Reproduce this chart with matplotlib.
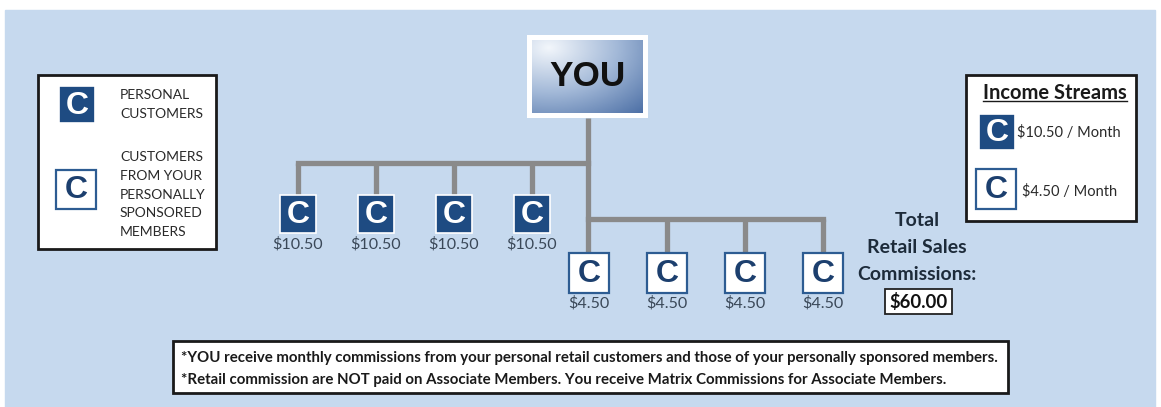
import numpy as np
import matplotlib
matplotlib.use("Agg")
import matplotlib.pyplot as plt
from matplotlib.patches import Rectangle
from matplotlib.colors import LinearSegmentedColormap

# values shown in the diagram
personal_commissions = [10.50, 10.50, 10.50, 10.50]
sponsored_commissions = [4.50, 4.50, 4.50, 4.50]
legend_personal = ["PERSONAL", "CUSTOMERS"]
legend_sponsored = ["CUSTOMERS", "FROM YOUR", "PERSONALLY", "SPONSORED", "MEMBERS"]
income_streams = ["$10.50 / Month", "$4.50 / Month"]
total_lines = ["Total", "Retail Sales", "Commissions:"]
notes = [
    "*YOU receive monthly commissions from your personal retail customers and those of your personally sponsored members.",
    "*Retail commission are NOT paid on Associate Members. You receive Matrix Commissions for Associate Members.",
]
total = sum(personal_commissions) + sum(sponsored_commissions)

W, H = 1161, 407
BG = "#c6d9ee"
NAVY = "#1e4b82"
NAVY_TXT = "#1c3f6e"
GREY = "#8a8a8a"
FONT = "Lato"

fig = plt.figure(figsize=(W / 100, H / 100), dpi=100)
ax = fig.add_axes([0, 0, 1, 1])
ax.set_xlim(0, W)
ax.set_ylim(H, 0)
ax.axis("off")
renderer = fig.canvas.get_renderer()


def fit(t, width):
    # scale the font so the text spans the given pixel width
    w = t.get_window_extent(renderer).width
    t.set_fontsize(t.get_fontsize() * width / w)
    return t.get_fontsize()


ax.add_patch(Rectangle((5, 10), 1150, 397, color=BG, zorder=0))

# YOU box with gradient
ax.add_patch(Rectangle((527, 35), 121, 83, facecolor="white", edgecolor="none", zorder=2))
yy, xx = np.mgrid[0:1:80j, 0:1:120j]
grad = np.sqrt((xx - 0.15) ** 2 + (yy - 0.1) ** 2)
cmap = LinearSegmentedColormap.from_list("you", ["#f2f6fb", "#a3b9d8", "#4d70a6"])
ax.imshow(grad, cmap=cmap, extent=(532, 643, 113, 40), zorder=3, aspect="auto")
t = ax.text(587, 76, "YOU", ha="center", va="center", fontsize=26,
            fontweight="bold", family="Liberation Sans", color="#111111", zorder=4)
fit(t, 76)

# connector lines
lw = 3.8
row1_x = [298 + 78 * i for i in range(len(personal_commissions))]
row2_x = [589 + 78 * i for i in range(len(sponsored_commissions))]
ax.plot([588, 588], [118, 255], color=GREY, lw=lw, zorder=1, solid_capstyle="butt")
ax.plot([row1_x[0], 588], [163, 163], color=GREY, lw=lw, zorder=1, solid_capstyle="projecting")
ax.plot([588, row2_x[-1]], [219, 219], color=GREY, lw=lw, zorder=1, solid_capstyle="projecting")
for x in row1_x:
    ax.plot([x, x], [163, 196], color=GREY, lw=lw, zorder=1, solid_capstyle="butt")
for x in row2_x[1:]:
    ax.plot([x, x], [219, 254], color=GREY, lw=lw, zorder=1, solid_capstyle="butt")


def dark_box(cx, y0, w=36, h=38, fs=23):
    ax.add_patch(Rectangle((cx - w / 2, y0), w, h, facecolor=NAVY, edgecolor="white",
                           lw=1.2, zorder=5))
    ax.text(cx, y0 + h / 2 + 1, "C", ha="center", va="center", color="white",
            fontsize=fs, fontweight="bold", family="Liberation Sans", zorder=6)


def light_box(cx, y0, w=40, h=40, fs=23):
    ax.add_patch(Rectangle((cx - w / 2, y0), w, h, facecolor="white", edgecolor="#2d5c92",
                           lw=1.6, zorder=5))
    ax.text(cx, y0 + h / 2 + 1, "C", ha="center", va="center", color=NAVY_TXT,
            fontsize=fs, fontweight="bold", family="Liberation Sans", zorder=6)


money_fs = None
for x, v in zip(row1_x, personal_commissions):
    dark_box(x, 195)
    t = ax.text(x, 244, f"${v:.2f}", ha="center", va="center", fontsize=10.5,
                family=FONT, color="#3a4858", zorder=6)
    if money_fs is None:
        money_fs = fit(t, 51)
    t.set_fontsize(money_fs)
for x, v in zip(row2_x, sponsored_commissions):
    light_box(x, 253)
    ax.text(x, 303, f"${v:.2f}", ha="center", va="center", fontsize=money_fs,
            family=FONT, color="#3a4858", zorder=6)

# total
for i, s in enumerate(total_lines):
    ax.text(917, 221 + 26.5 * i, s, ha="center", va="center", fontsize=14,
            fontweight="bold", family=FONT, color="#1d2b3a", zorder=6)
ax.add_patch(Rectangle((885, 289), 67, 25, facecolor="white", edgecolor="#222222",
                       lw=1.3, zorder=5))
ax.text(918.5, 302, f"${total:.2f}", ha="center", va="center", fontsize=13.3,
        fontweight="bold", family=FONT, color="#111111", zorder=6)

# left legend
ax.add_patch(Rectangle((38, 75), 178, 174, facecolor="white", edgecolor="#1a1a1a",
                       lw=2, zorder=5))
dark_box(77, 86, w=36, h=37)
light_box(76, 170, w=40, h=39)
t = ax.text(120, 95, legend_personal[0], ha="left", va="center", fontsize=8.3,
            family=FONT, color="#2a2a2a", zorder=6)
leg_fs = fit(t, 70)
for i, s in enumerate(legend_personal[1:], start=1):
    ax.text(120, 95 + 19 * i, s, ha="left", va="center", fontsize=leg_fs,
            family=FONT, color="#2a2a2a", zorder=6)
for i, s in enumerate(legend_sponsored):
    ax.text(120, 157 + 18.8 * i, s, ha="left", va="center", fontsize=leg_fs,
            family=FONT, color="#2a2a2a", zorder=6)

# right legend
ax.add_patch(Rectangle((966, 75), 170, 146, facecolor="white", edgecolor="#1a1a1a",
                       lw=2, zorder=5))
t = ax.text(1055, 93, "Income Streams", ha="center", va="center", fontsize=12,
            fontweight="bold", family=FONT, color="#1a1a1a", zorder=6)
fit(t, 143)
ax.plot([983, 1127], [101, 101], color="#1a1a1a", lw=1, zorder=6)
dark_box(997, 114, w=36, h=36)
light_box(996, 169, w=40, h=40)
t = ax.text(1017, 132, income_streams[0], ha="left", va="center", fontsize=9.2,
            family=FONT, color="#2a2a2a", zorder=6)
inc_fs = fit(t, 103)
ax.text(1022, 191, income_streams[1], ha="left", va="center", fontsize=inc_fs,
        family=FONT, color="#2a2a2a", zorder=6)

# bottom notes
ax.add_patch(Rectangle((173, 341), 835, 52, facecolor="white", edgecolor="#1a1a1a",
                       lw=2, zorder=5))
t1 = ax.text(181, 358, notes[0], ha="left", va="center", fontsize=8.5,
             fontweight="bold", family=FONT, color="#1a1a1a", zorder=6)
fit(t1, 819)
ax.text(181, 380, notes[1], ha="left", va="center", fontsize=t1.get_fontsize(),
        fontweight="bold", family=FONT, color="#1a1a1a", zorder=6)

fig.savefig("out.png", dpi=100, facecolor="white")
